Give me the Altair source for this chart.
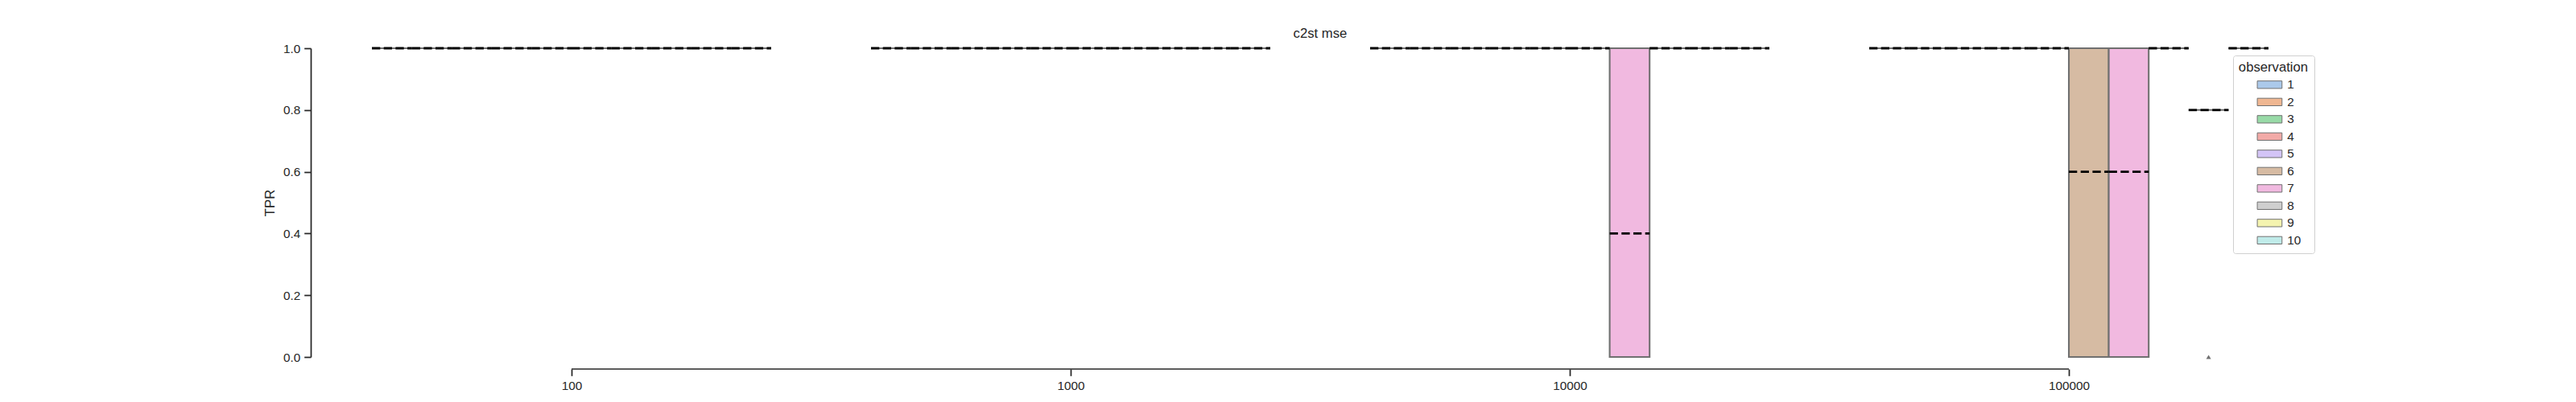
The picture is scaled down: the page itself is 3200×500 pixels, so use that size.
import json
import altair as alt
import pandas as pd

# ---- data ----
N_TRAIN = ["100", "1000", "10000", "100000"]
OBSERVATIONS = [1, 2, 3, 4, 5, 6, 7, 8, 9, 10]

# box lower quartile per observation (1..10), per n_train group
Q1_100 = [1.0, 1.0, 1.0, 1.0, 1.0, 1.0, 1.0, 1.0, 1.0, 1.0]
Q1_1000 = [1.0, 1.0, 1.0, 1.0, 1.0, 1.0, 1.0, 1.0, 1.0, 1.0]
Q1_10000 = [1.0, 1.0, 1.0, 1.0, 1.0, 1.0, 0.0, 1.0, 1.0, 1.0]
Q1_100000 = [1.0, 1.0, 1.0, 1.0, 1.0, 0.0, 0.0, 1.0, 0.8, 1.0]

# box upper quartile
Q3_100 = [1.0, 1.0, 1.0, 1.0, 1.0, 1.0, 1.0, 1.0, 1.0, 1.0]
Q3_1000 = [1.0, 1.0, 1.0, 1.0, 1.0, 1.0, 1.0, 1.0, 1.0, 1.0]
Q3_10000 = [1.0, 1.0, 1.0, 1.0, 1.0, 1.0, 1.0, 1.0, 1.0, 1.0]
Q3_100000 = [1.0, 1.0, 1.0, 1.0, 1.0, 1.0, 1.0, 1.0, 0.8, 1.0]

# medians
MED_100 = [1.0, 1.0, 1.0, 1.0, 1.0, 1.0, 1.0, 1.0, 1.0, 1.0]
MED_1000 = [1.0, 1.0, 1.0, 1.0, 1.0, 1.0, 1.0, 1.0, 1.0, 1.0]
MED_10000 = [1.0, 1.0, 1.0, 1.0, 1.0, 1.0, 0.4, 1.0, 1.0, 1.0]
MED_100000 = [1.0, 1.0, 1.0, 1.0, 1.0, 0.6, 0.6, 1.0, 0.8, 1.0]

# outliers (fliers)
OUT_N_TRAIN = ["100000"]
OUT_OBS = [9]
OUT_VALUE = [0.0]

COLORS = ["#abc9ea", "#efb792", "#98daa7", "#f2aaa7", "#d3c4f6",
          "#d6bba3", "#f1b9e0", "#cfcfcf", "#f4f3af", "#c0ebe9"]

Q1 = [Q1_100, Q1_1000, Q1_10000, Q1_100000]
Q3 = [Q3_100, Q3_1000, Q3_10000, Q3_100000]
MED = [MED_100, MED_1000, MED_10000, MED_100000]

rows = []
for gi, n in enumerate(N_TRAIN):
    for oi, obs in enumerate(OBSERVATIONS):
        rows.append({"n_train": n, "gi": gi, "observation": obs,
                     "q1": Q1[gi][oi], "q3": Q3[gi][oi], "med": MED[gi][oi]})
df = pd.DataFrame(rows)
out_df = pd.DataFrame({"gi": [N_TRAIN.index(n) for n in OUT_N_TRAIN],
                       "observation": OUT_OBS, "value": OUT_VALUE})

FONT = "Liberation Sans"
TXT = "#262626"
W, H = 2480, 384

xscale = alt.Scale(domain=[-0.5, 3.5], nice=False, zero=False)
yscale = alt.Scale(domain=[0, 1], nice=False)

xaxis = alt.Axis(values=[0, 1, 2, 3],
                 labelExpr=json.dumps(N_TRAIN) + "[datum.value]",
                 domain=False, offset=15, tickSize=8.3, tickWidth=1.74,
                 tickColor=TXT, labelPadding=5, labelFontSize=15.3,
                 labelFont=FONT, labelColor=TXT, titleFontSize=16.7,
                 titleFont=FONT, titleFontWeight="normal", titleColor=TXT,
                 titlePadding=4, grid=False, labelFlush=False)
yaxis = alt.Axis(values=[0, 0.2, 0.4, 0.6, 0.8, 1.0], format=".1f",
                 offset=14, domainColor=TXT, domainWidth=1.74,
                 tickSize=8.3, tickWidth=1.74, tickColor=TXT,
                 labelPadding=5, labelFontSize=15.3, labelFont=FONT,
                 labelColor=TXT, titleFontSize=16.7, titleFont=FONT,
                 titleFontWeight="normal", titleColor=TXT, titlePadding=7,
                 grid=False)

base = alt.Chart(df).transform_calculate(
    xs="datum.gi - 0.4 + (datum.observation - 1) * 0.08",
    xe="datum.gi - 0.4 + datum.observation * 0.08",
)

legend = alt.Legend(
    orient="none", legendX=2374, legendY=9,
    title="observation", titleFont=FONT, titleFontSize=16.7,
    titleFontWeight="normal", titleColor=TXT, titleAnchor="middle",
    titlePadding=5,
    labelFont=FONT, labelFontSize=15.3, labelColor=TXT,
    symbolType="M1.6,-1H8.2V1H1.6Z", symbolSize=86.5,
    symbolStrokeColor="#707070", symbolStrokeWidth=1, symbolOpacity=1,
    labelOffset=37, rowPadding=5.5, padding=7,
    strokeColor="#d0d0d0", fillColor="white", cornerRadius=3,
)

boxes = base.mark_bar(stroke="#707070", strokeWidth=2.08, opacity=1).encode(
    x=alt.X("xs:Q", scale=xscale, axis=xaxis, title="n_train"),
    x2="xe:Q",
    y=alt.Y("q1:Q", scale=yscale, axis=yaxis, title="TPR"),
    y2="q3:Q",
    fill=alt.Fill("observation:N",
                  scale=alt.Scale(domain=OBSERVATIONS, range=COLORS),
                  legend=legend),
)

medians = base.mark_rule(color="black", strokeWidth=2.78,
                         strokeDash=[10.3, 4.4]).encode(
    x=alt.X("xs:Q", scale=xscale, title="n_train"),
    x2="xe:Q",
    y=alt.Y("med:Q", scale=yscale, title="TPR"),
)

fliers = alt.Chart(out_df).transform_calculate(
    xm="datum.gi - 0.4 + (datum.observation - 0.5) * 0.08"
).mark_point(shape="triangle-up", filled=True, color="#707070",
             size=36, opacity=1).encode(
    x=alt.X("xm:Q", scale=xscale, title="n_train"),
    y=alt.Y("value:Q", scale=yscale, title="TPR"),
)

spine = alt.Chart(pd.DataFrame({"a": [0], "b": [len(N_TRAIN) - 1]})).mark_rule(
    color=TXT, strokeWidth=1.74).encode(
    x=alt.X("a:Q", scale=xscale, title="n_train"),
    x2="b:Q",
    y=alt.value(H + 15),
)

chart = alt.layer(boxes, medians, fliers, spine).properties(
    width=W, height=H,
    title=alt.TitleParams("c2st mse", font=FONT, fontSize=16.7,
                          fontWeight="normal", color=TXT, offset=2,
                          frame="group", anchor="middle"),
    autosize=alt.AutoSizeParams(type="none"),
    padding={"left": 392, "top": 52, "right": 312, "bottom": 48},
).configure(
    background="white",
    view=alt.ViewConfig(stroke="transparent", strokeWidth=0),
)

chart.save("out.html", embed_options={"renderer": "svg", "actions": False})
